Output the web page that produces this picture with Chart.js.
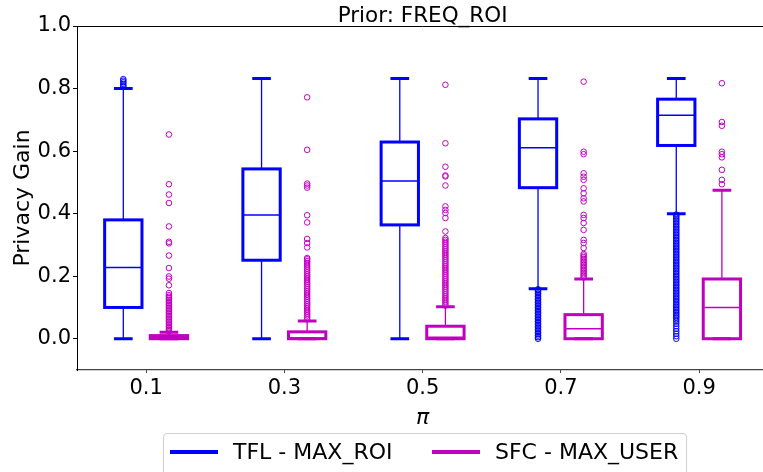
<!DOCTYPE html>
<html>
<head>
<meta charset="utf-8">
<script src="https://cdn.jsdelivr.net/npm/chart.js@4"></script>
<style>
  html, body { margin: 0; padding: 0; background: #fff; overflow: hidden; }
  #wrap { position: relative; width: 772px; height: 472px; }
  #legend {
    position: absolute; left: 163px; top: 433px; width: 522px; height: 44px;
    border: 1px solid #d0d0d0; border-radius: 4px; background: #fff;
    font-family: "DejaVu Sans"; font-size: 22px; color: #000;
  }
  #legend .line { position: absolute; top: 16px; width: 48px; height: 4px; }
  #legend .txt { position: absolute; top: 0; line-height: 36px; white-space: nowrap; }
</style>
</head>
<body>
<div id="wrap">
  <canvas id="chart" width="772" height="472"></canvas>
  <div id="legend">
    <span class="line" style="left:6px; background:#0000ff"></span>
    <span class="txt" style="left:69px">TFL - MAX_ROI</span>
    <span class="line" style="left:268px; background:#bf00bf"></span>
    <span class="txt" style="left:331px">SFC - MAX_USER</span>
  </div>
</div>
<script>
// x categories (pi) and y ticks
const categories = ["0.1", "0.3", "0.5", "0.7", "0.9"];
const yTicks = [0.0, 0.2, 0.4, 0.6, 0.8, 1.0];
const titleText = "Prior: FREQ_ROI";

// TFL - MAX_ROI box stats
const tflLow = [0.0, 0.0, 0.0, 0.16, 0.40];
const tflQ1 = [0.10, 0.251, 0.364, 0.483, 0.618];
const tflMedian = [0.228, 0.396, 0.504, 0.611, 0.715];
const tflQ3 = [0.38, 0.543, 0.629, 0.703, 0.766];
const tflHigh = [0.80, 0.832, 0.832, 0.832, 0.832];
const tflOutliers = [
  [0.805, 0.81, 0.815, 0.82, 0.825, 0.83],
  [],
  [],
  [0.000, 0.005, 0.010, 0.015, 0.020, 0.025, 0.030, 0.035, 0.040, 0.045, 0.050, 0.055, 0.060, 0.065,
   0.070, 0.075, 0.080, 0.085, 0.090, 0.095, 0.100, 0.105, 0.110, 0.115, 0.120, 0.125, 0.130, 0.135,
   0.140, 0.145, 0.150, 0.155, 0.158],
  [0.000, 0.008, 0.016, 0.024, 0.032, 0.040, 0.048, 0.055, 0.061, 0.067, 0.072, 0.077, 0.082, 0.087,
   0.092, 0.097, 0.102, 0.107, 0.112, 0.117, 0.122, 0.127, 0.132, 0.137, 0.142, 0.147, 0.152, 0.157,
   0.162, 0.167, 0.172, 0.177, 0.182, 0.187, 0.192, 0.197, 0.202, 0.207, 0.212, 0.217, 0.222, 0.227,
   0.232, 0.237, 0.242, 0.247, 0.252, 0.257, 0.262, 0.267, 0.272, 0.277, 0.282, 0.287, 0.292, 0.297,
   0.302, 0.307, 0.312, 0.317, 0.322, 0.327, 0.332, 0.337, 0.342, 0.347, 0.352, 0.357, 0.362, 0.367,
   0.372, 0.377, 0.382, 0.387, 0.392, 0.397]
];

// SFC - MAX_USER box stats
const sfcLow = [0.0, 0.0, 0.0, 0.0, 0.0];
const sfcQ1 = [0.0, 0.0, 0.0, 0.0, 0.0];
const sfcMedian = [0.003, 0.002, 0.005, 0.032, 0.10];
const sfcQ3 = [0.01, 0.022, 0.04, 0.077, 0.191];
const sfcHigh = [0.021, 0.057, 0.102, 0.191, 0.475];
const sfcOutliers = [
  [0.024, 0.029, 0.034, 0.039, 0.044, 0.049, 0.054, 0.059, 0.064, 0.069, 0.074, 0.079, 0.084, 0.089,
   0.094, 0.099, 0.104, 0.109, 0.114, 0.119, 0.124, 0.129, 0.134, 0.139, 0.146, 0.171, 0.192, 0.199,
   0.226, 0.266, 0.305, 0.31, 0.359, 0.434, 0.461, 0.494, 0.653],
  [0.062, 0.068, 0.074, 0.080, 0.086, 0.092, 0.098, 0.104, 0.110, 0.116, 0.122, 0.128, 0.134, 0.140,
   0.146, 0.152, 0.158, 0.164, 0.170, 0.176, 0.182, 0.188, 0.194, 0.200, 0.206, 0.212, 0.218, 0.224,
   0.230, 0.236, 0.242, 0.248, 0.254, 0.258, 0.292, 0.306, 0.319, 0.372, 0.395, 0.483, 0.49, 0.496,
   0.604, 0.772],
  [0.106, 0.112, 0.118, 0.124, 0.130, 0.136, 0.142, 0.148, 0.154, 0.160, 0.166, 0.172, 0.178, 0.184,
   0.190, 0.196, 0.202, 0.208, 0.214, 0.220, 0.226, 0.232, 0.238, 0.244, 0.250, 0.256, 0.262, 0.268,
   0.274, 0.280, 0.286, 0.292, 0.298, 0.304, 0.310, 0.316, 0.322, 0.343, 0.386, 0.402, 0.412, 0.423,
   0.49, 0.519, 0.522, 0.55, 0.625, 0.812],
  [0.196, 0.201, 0.206, 0.211, 0.216, 0.221, 0.226, 0.231, 0.236, 0.241, 0.246, 0.251, 0.256, 0.261,
   0.266, 0.271, 0.29, 0.306, 0.316, 0.348, 0.37, 0.386, 0.396, 0.439, 0.449, 0.465, 0.481, 0.508,
   0.518, 0.529, 0.59, 0.598, 0.822],
  [0.494, 0.508, 0.54, 0.58, 0.59, 0.598, 0.681, 0.693, 0.817]
];

const BLUE = "#0000ff";
const MAGENTA = "#bf00bf";
const BOX_W = 0.27;
const FONT = "DejaVu Sans";

const series = [
  { color: BLUE, offset: -0.165, low: tflLow, q1: tflQ1, med: tflMedian, q3: tflQ3, high: tflHigh, out: tflOutliers },
  { color: MAGENTA, offset: 0.165, low: sfcLow, q1: sfcQ1, med: sfcMedian, q3: sfcQ3, high: sfcHigh, out: sfcOutliers }
];

function outlierPoints(s) {
  const pts = [];
  s.out.forEach((vals, i) => vals.forEach(v => pts.push({ x: i + s.offset, y: v })));
  return pts;
}

const boxPlugin = {
  id: "boxes",
  beforeDatasetsDraw(chart) {
    const ctx = chart.ctx;
    const xs = chart.scales.x, ys = chart.scales.y;
    ctx.save();
    series.forEach(s => {
      ctx.strokeStyle = s.color;
      categories.forEach((c, i) => {
        const xc = xs.getPixelForValue(i + s.offset);
        const hw = xs.getPixelForValue(i + s.offset + BOX_W / 2) - xc;
        const yLow = ys.getPixelForValue(s.low[i]);
        const yQ1 = ys.getPixelForValue(s.q1[i]);
        const yMed = ys.getPixelForValue(s.med[i]);
        const yQ3 = ys.getPixelForValue(s.q3[i]);
        const yHigh = ys.getPixelForValue(s.high[i]);
        // whiskers
        ctx.lineWidth = 1.3;
        ctx.beginPath();
        ctx.moveTo(xc, yQ3); ctx.lineTo(xc, yHigh);
        ctx.moveTo(xc, yQ1); ctx.lineTo(xc, yLow);
        ctx.stroke();
        // caps
        ctx.lineWidth = 3;
        ctx.beginPath();
        ctx.moveTo(xc - hw / 2, yHigh); ctx.lineTo(xc + hw / 2, yHigh);
        ctx.moveTo(xc - hw / 2, yLow); ctx.lineTo(xc + hw / 2, yLow);
        ctx.stroke();
        // box
        ctx.lineWidth = 3;
        ctx.strokeRect(xc - hw, yQ3, 2 * hw, yQ1 - yQ3);
        // median
        ctx.lineWidth = 1.5;
        ctx.beginPath();
        ctx.moveTo(xc - hw, yMed); ctx.lineTo(xc + hw, yMed);
        ctx.stroke();
      });
    });
    ctx.restore();
  },
  afterDraw(chart) {
    const { ctx, chartArea } = chart;
    ctx.save();
    // top spine
    ctx.strokeStyle = "#000";
    ctx.lineWidth = 1;
    ctx.beginPath();
    ctx.moveTo(chartArea.left, chartArea.top + 0.5);
    ctx.lineTo(chartArea.right, chartArea.top + 0.5);
    ctx.stroke();
    // title, centred over the plot area
    ctx.fillStyle = "#000";
    ctx.font = "21.5px '" + FONT + "'";
    ctx.textAlign = "center";
    ctx.textBaseline = "alphabetic";
    ctx.fillText(titleText, (chartArea.left + chartArea.right) / 2, chartArea.top - 4);
    ctx.restore();
  }
};

new Chart(document.getElementById("chart"), {
  type: "scatter",
  data: {
    datasets: series.map(s => ({
      data: outlierPoints(s),
      pointRadius: 2.8,
      pointBorderWidth: 1,
      pointBorderColor: s.color,
      pointBackgroundColor: "rgba(0,0,0,0)",
      pointHoverRadius: 2.8
    }))
  },
  options: {
    responsive: false,
    animation: false,
    layout: { padding: { top: 26, left: 0, right: 0, bottom: 0 } },
    plugins: {
      legend: { display: false },
      tooltip: { enabled: false },
      title: { display: false }
    },
    scales: {
      x: {
        type: "linear",
        min: -0.5,
        max: 4.5,
        afterBuildTicks: scale => { scale.ticks = categories.map((c, i) => ({ value: i })); },
        afterFit: scale => { scale.height = 102; },
        ticks: {
          callback: v => categories[v],
          color: "#000",
          font: { family: FONT, size: 21 },
          padding: 3,
          maxRotation: 0
        },
        grid: {
          drawOnChartArea: false,
          drawTicks: true,
          tickLength: 3,
          color: c => (c.tick && categories[c.tick.value] !== undefined) ? "#444" : "rgba(0,0,0,0)"
        },
        border: { display: true, color: "#444", width: 1.2 },
        title: {
          display: true,
          text: "π",
          color: "#000",
          font: { family: FONT, size: 22, style: "italic" },
          padding: { top: 0, bottom: 41 }
        }
      },
      y: {
        min: -0.1,
        max: 1.0,
        afterBuildTicks: scale => { scale.ticks = yTicks.map(v => ({ value: v })); },
        afterFit: scale => { scale.width = 77; },
        ticks: {
          callback: v => v.toFixed(1),
          color: "#000",
          font: { family: FONT, size: 21 },
          padding: 2
        },
        grid: {
          drawOnChartArea: false,
          drawTicks: true,
          tickLength: 4,
          color: c => (c.tick && yTicks.includes(c.tick.value)) ? "#000" : "rgba(0,0,0,0)"
        },
        border: { display: true, color: "#000", width: 1 },
        title: {
          display: true,
          text: "Privacy Gain",
          color: "#000",
          font: { family: FONT, size: 22 },
          padding: { top: 10, bottom: 0 }
        }
      }
    }
  },
  plugins: [boxPlugin]
});
</script>
</body>
</html>
